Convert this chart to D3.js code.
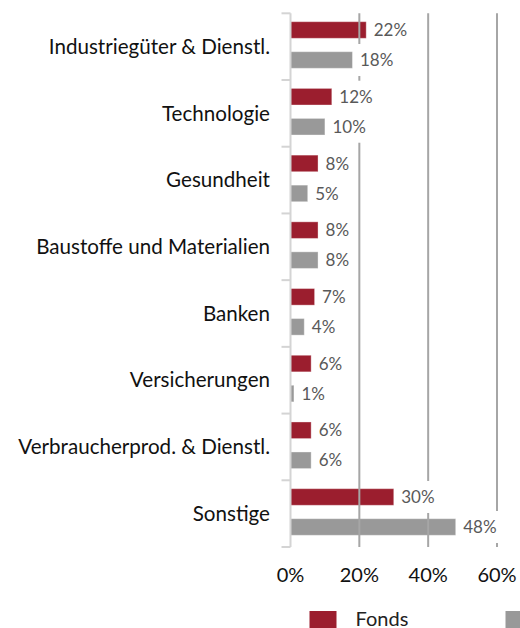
<!DOCTYPE html>
<html>
<head>
<meta charset="utf-8">
<script src="https://cdn.jsdelivr.net/npm/d3@7"></script>
<style>
  body { margin: 0; background: #fff; }
  svg { display: block; font-family: Lato, "Open Sans", sans-serif; }
</style>
</head>
<body>
<svg id="chart" width="520" height="628"></svg>
<script>
// data
var categories = ["Industriegüter & Dienstl.", "Technologie", "Gesundheit", "Baustoffe und Materialien",
                  "Banken", "Versicherungen", "Verbraucherprod. & Dienstl.", "Sonstige"];
var seriesNames = ["Fonds", "Benchmark"];
var fondsValues = [22, 12, 8, 8, 7, 6, 6, 30];
var benchmarkValues = [18, 10, 5, 8, 4, 1, 6, 48];
var tickValues = [0, 20, 40, 60];

var colors = ["#9b1e2e", "#999999"];

var width = 520, height = 628;
var plotLeft = 290.5, plotRight = 497, plotTop = 13.3, plotBottom = 547;

var svg = d3.select("#chart");

var x = d3.scaleLinear().domain([0, 60]).range([plotLeft, plotRight]);
var y = d3.scaleBand().domain(categories).range([plotTop, plotBottom]);
// two bars inside each category band
var yInner = d3.scaleBand().domain(seriesNames).range([8.4, 55]).paddingInner(0.447);
var color = d3.scaleOrdinal().domain(seriesNames).range(colors);

var rows = [];
for (var i = 0; i < categories.length; ++i) {
    rows.push({cat: categories[i], series: seriesNames[0], value: fondsValues[i]});
    rows.push({cat: categories[i], series: seriesNames[1], value: benchmarkValues[i]});
}

// bars
svg.selectAll(".bar")
  .data(rows)
  .enter()
  .append("rect")
    .attr("class", "bar")
    .attr("x", x(0))
    .attr("y", function(d) { return y(d.cat) + yInner(d.series); })
    .attr("width", function(d) { return x(d.value) - x(0); })
    .attr("height", yInner.bandwidth())
    .attr("fill", function(d) { return color(d.series); })
    .attr("stroke", "#ffffff")
    .attr("stroke-opacity", 0.35)
    .attr("stroke-width", 1);

// vertical gridlines (drawn over the bars, under the label boxes)
svg.selectAll(".grid")
  .data(tickValues.slice(1))
  .enter()
  .append("line")
    .attr("x1", function(d) { return x(d); })
    .attr("x2", function(d) { return x(d); })
    .attr("y1", plotTop)
    .attr("y2", plotBottom)
    .attr("stroke", "#a6a6a6")
    .attr("stroke-width", 2);

// category axis line and ticks
svg.append("line")
  .attr("x1", x(0)).attr("x2", x(0))
  .attr("y1", plotTop).attr("y2", plotBottom)
  .attr("stroke", "#d4d4d4")
  .attr("stroke-width", 2);

var boundaries = categories.map(function(c) { return y(c); }).concat([plotBottom]);
svg.selectAll(".ctick")
  .data(boundaries)
  .enter()
  .append("line")
    .attr("x1", x(0) - 9).attr("x2", x(0))
    .attr("y1", function(d) { return d; })
    .attr("y2", function(d) { return d; })
    .attr("stroke", "#d4d4d4")
    .attr("stroke-width", 2);

// category labels
svg.selectAll(".clabel")
  .data(categories)
  .enter()
  .append("text")
    .attr("x", 270)
    .attr("y", function(d) { return y(d) + y.bandwidth() / 2; })
    .attr("dy", "0.35em")
    .attr("text-anchor", "end")
    .style("font-size", "20.6px")
    .style("fill", "#111")
    .text(function(d) { return d; });

// value labels with white boxes behind them
var labelG = svg.selectAll(".vlabel")
  .data(rows)
  .enter()
  .append("g");

var boxes = labelG.append("rect").attr("fill", "#fff");
var texts = labelG.append("text")
    .attr("x", function(d) { return x(d.value) + 7.5; })
    .attr("y", function(d) { return y(d.cat) + yInner(d.series) + yInner.bandwidth() / 2; })
    .attr("dy", "0.36em")
    .style("font-size", "17px")
    .style("fill", "#595959")
    .text(function(d) { return d.value + "%"; });

texts.each(function(d) { d.tw = this.getComputedTextLength(); });
boxes
    .attr("x", function(d) { return x(d.value) + 4; })
    .attr("y", function(d) { return y(d.cat) + yInner(d.series) + yInner.bandwidth() / 2 - 16; })
    .attr("width", function(d) { return d.tw + 7; })
    .attr("height", 32);

// x tick labels
svg.selectAll(".xlabel")
  .data(tickValues)
  .enter()
  .append("text")
    .attr("x", function(d) { return x(d); })
    .attr("y", 575)
    .attr("dy", "0.35em")
    .attr("text-anchor", "middle")
    .style("font-size", "20px")
    .style("fill", "#111")
    .text(function(d) { return d + "%"; });

// legend
var legend = svg.selectAll(".legend")
  .data(seriesNames)
  .enter()
  .append("g")
    .attr("transform", function(d, i) { return "translate(" + (309.5 + i * 196) + ",611)"; });

legend.append("rect")
  .attr("width", 27)
  .attr("height", 17)
  .attr("fill", function(d) { return color(d); });

legend.append("text")
  .attr("x", 46)
  .attr("y", 15)
  .style("font-size", "20px")
  .style("fill", "#222")
  .text(function(d) { return d; });
</script>
</body>
</html>
